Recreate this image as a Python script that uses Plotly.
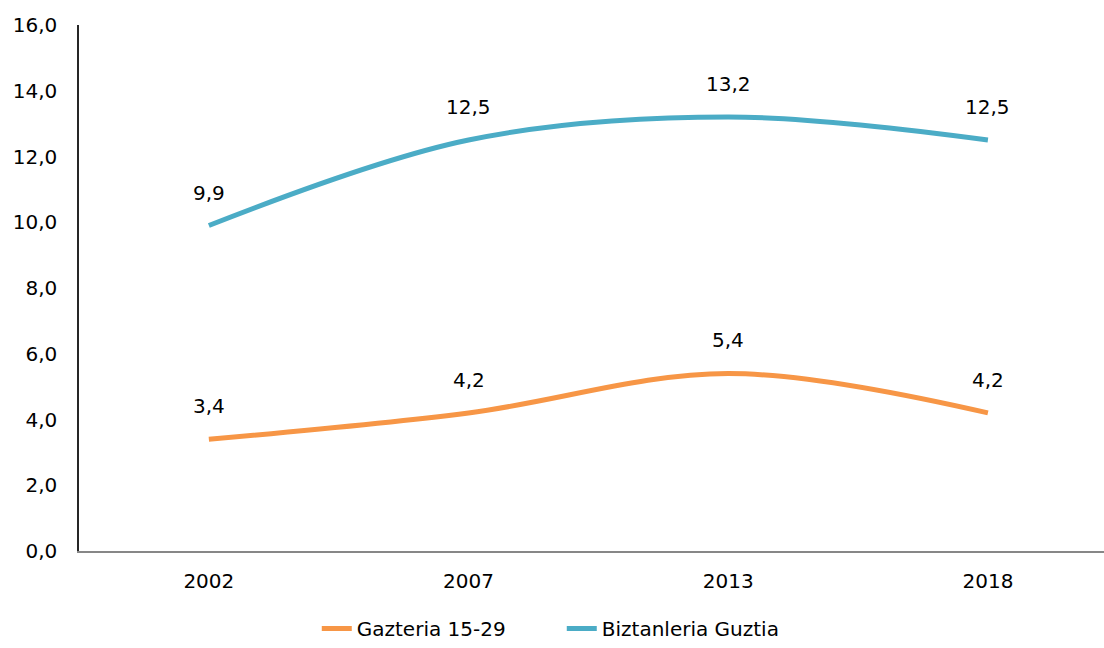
import plotly.graph_objects as go

years = ["2002", "2007", "2013", "2018"]
gazteria = [3.4, 4.2, 5.4, 4.2]
biztanleria = [9.9, 12.5, 13.2, 12.5]
series_names = ["Gazteria 15-29", "Biztanleria Guztia"]
colors = ["#F79646", "#4BACC6"]

FONT = "DejaVu Sans"
FS = 20

fig = go.Figure()
for name, vals, col in zip(series_names, [gazteria, biztanleria], colors):
    fig.add_trace(go.Scatter(
        x=years, y=vals, name=name, mode="lines",
        line={"color": col, "width": 5, "shape": "spline", "smoothing": 1},
        hoverinfo="skip",
    ))
    # data labels above each point (category index as x)
    for i, yv in enumerate(vals):
        fig.add_annotation(
            x=i, y=yv, text=f"{yv:.1f}".replace(".", ","),
            showarrow=False, yshift=33, font={"size": FS, "color": "#000000"},
        )

fig.update_layout(
    width=1104, height=648,
    margin={"l": 79, "r": 0, "t": 25, "b": 97},
    paper_bgcolor="white", plot_bgcolor="white",
    font={"family": FONT, "size": FS, "color": "#000000"},
    separators=", ",
    showlegend=True,
    legend={
        "orientation": "h", "x": 0.471, "xanchor": "center",
        "yref": "container", "y": 0, "yanchor": "bottom",
        "font": {"size": FS}, "entrywidth": 200, "entrywidthmode": "pixels",
    },
)
fig.update_xaxes(
    type="category", range=[-0.5, 3.447], automargin=False,
    showgrid=False, zeroline=False,
    showline=True, linecolor="#878787", linewidth=2,
    ticks="", ticklabelstandoff=11,
)
fig.update_yaxes(
    range=[0, 16], dtick=2, tickformat=".1f", automargin=False,
    showgrid=False, zeroline=False,
    showline=True, linecolor="#262626", linewidth=1.5,
    ticks="", ticklabelstandoff=16,
)

# drop the default page margin/scroll so the figure fills the window exactly
page_js = (
    "document.body.style.margin='0';"
    "document.body.style.overflow='hidden';"
    "document.documentElement.style.overflow='hidden';"
    "document.body.style.height='648px';"
)
fig.write_html("out.html", post_script=page_js, config={"displayModeBar": False})
